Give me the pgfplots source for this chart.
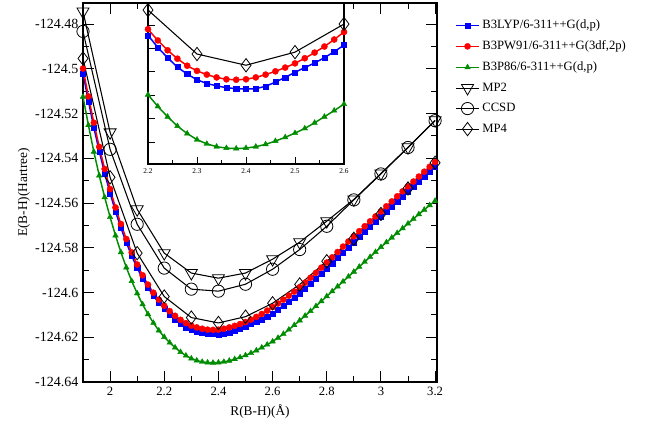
\documentclass[border=0pt]{standalone}
\usepackage{pgfplots}
\usepackage{pgfplotstable}
\pgfplotsset{compat=1.18}
\usepackage{fontspec}
\setmainfont{Liberation Serif}
\definecolor{cblue}{RGB}{0,0,255}
\definecolor{cred}{RGB}{255,0,0}
\definecolor{cgreen}{RGB}{0,140,0}

\pgfplotstableread{
x red blue green
1.90 -124.4999 -124.5021 -124.5125
1.92 -124.5124 -124.5145 -124.5252
1.94 -124.5241 -124.5262 -124.5371
1.96 -124.5349 -124.5369 -124.5477
1.98 -124.5448 -124.5467 -124.5574
2.00 -124.5538 -124.5556 -124.5663
2.02 -124.5620 -124.5638 -124.5745
2.04 -124.5694 -124.5711 -124.5820
2.06 -124.5761 -124.5777 -124.5888
2.08 -124.5821 -124.5837 -124.5949
2.10 -124.5875 -124.5890 -124.6004
2.12 -124.5923 -124.5938 -124.6053
2.14 -124.5965 -124.5979 -124.6097
2.16 -124.6001 -124.6015 -124.6136
2.18 -124.6032 -124.6045 -124.6170
2.20 -124.6059 -124.6072 -124.6199
2.22 -124.6083 -124.6098 -124.6224
2.24 -124.6104 -124.6120 -124.6246
2.26 -124.6122 -124.6140 -124.6266
2.28 -124.6137 -124.6155 -124.6282
2.30 -124.6148 -124.6167 -124.6295
2.32 -124.6156 -124.6175 -124.6304
2.34 -124.6162 -124.6180 -124.6310
2.36 -124.6166 -124.6184 -124.6313
2.38 -124.6167 -124.6186 -124.6314
2.40 -124.6166 -124.6187 -124.6313
2.42 -124.6162 -124.6186 -124.6310
2.44 -124.6156 -124.6181 -124.6305
2.46 -124.6149 -124.6172 -124.6298
2.48 -124.6141 -124.6162 -124.6290
2.50 -124.6132 -124.6151 -124.6281
2.52 -124.6121 -124.6141 -124.6271
2.54 -124.6109 -124.6131 -124.6259
2.56 -124.6096 -124.6120 -124.6246
2.58 -124.6081 -124.6107 -124.6233
2.60 -124.6065 -124.6093 -124.6219
2.62 -124.6049 -124.6076 -124.6203
2.64 -124.6032 -124.6058 -124.6185
2.66 -124.6014 -124.6040 -124.6166
2.68 -124.5996 -124.6022 -124.6146
2.70 -124.5977 -124.6003 -124.6125
2.72 -124.5956 -124.5982 -124.6104
2.74 -124.5934 -124.5960 -124.6083
2.76 -124.5912 -124.5938 -124.6061
2.78 -124.5889 -124.5915 -124.6039
2.80 -124.5866 -124.5892 -124.6017
2.82 -124.5843 -124.5869 -124.5995
2.84 -124.5819 -124.5845 -124.5973
2.86 -124.5795 -124.5821 -124.5951
2.88 -124.5772 -124.5798 -124.5929
2.90 -124.5749 -124.5775 -124.5907
2.92 -124.5726 -124.5752 -124.5885
2.94 -124.5704 -124.5729 -124.5863
2.96 -124.5682 -124.5707 -124.5841
2.98 -124.5660 -124.5685 -124.5819
3.00 -124.5638 -124.5663 -124.5797
3.02 -124.5615 -124.5639 -124.5776
3.04 -124.5593 -124.5617 -124.5755
3.06 -124.5570 -124.5593 -124.5734
3.08 -124.5548 -124.5571 -124.5713
3.10 -124.5526 -124.5548 -124.5692
3.12 -124.5504 -124.5526 -124.5671
3.14 -124.5482 -124.5503 -124.5650
3.16 -124.5460 -124.5481 -124.5630
3.18 -124.5438 -124.5458 -124.5610
3.20 -124.5417 -124.5437 -124.5590
}\dft

\pgfplotstableread{
x tri circ diam
1.9 -124.4744 -124.4833 -124.4954
2.0 -124.5284 -124.5360 -124.5485
2.1 -124.5628 -124.5695 -124.5824
2.2 -124.5824 -124.5891 -124.6018
2.3 -124.5913 -124.5985 -124.6112
2.4 -124.5936 -124.5994 -124.6136
2.5 -124.5913 -124.5963 -124.6108
2.6 -124.5851 -124.5896 -124.6048
2.7 -124.5775 -124.5808 -124.5964
2.8 -124.5681 -124.5704 -124.5860
2.9 -124.5584 -124.5586 -124.5760
3.0 -124.5468 -124.5470 -124.5649
3.1 -124.5351 -124.5352 -124.5535
3.2 -124.5230 -124.5232 -124.5420
}\wft

\pgfplotsset{
  bluestyle/.style={color=cblue, line width=1.1pt, mark=square*, mark size=1.9pt, mark options={solid, fill=cblue, line width=0.3pt}},
  redstyle/.style={color=cred, line width=1.1pt, mark=*, mark size=2.3pt, mark options={solid, fill=cred, line width=0.3pt}},
  greenstyle/.style={color=cgreen, line width=1.1pt, mark=triangle*, mark size=2.4pt, mark options={solid, fill=cgreen, line width=0.3pt}},
  tristyle/.style={color=black, line width=0.8pt, mark=triangle, mark size=5.2pt, mark options={solid, fill=white, rotate=180, line width=0.6pt}},
  circstyle/.style={color=black, line width=0.8pt, mark=o, mark size=4.6pt, mark options={solid, fill=none, line width=0.6pt}},
  diamstyle/.style={color=black, line width=0.8pt, mark=diamond, mark size=5pt, mark options={solid, fill=white, line width=0.6pt}},
}

\begin{document}
\begin{tikzpicture}[x=1pt,y=1pt]
\path[use as bounding box] (0,0) rectangle (488.25,319.5);
\begin{axis}[
  at={(62.25pt,33pt)}, anchor=south west,
  scale only axis, width=265.5pt, height=284.25pt,
  xmin=1.9, xmax=3.207, ymin=-124.64, ymax=-124.4706,
  xtick={2,2.2,2.4,2.6,2.8,3,3.2},
  xticklabels={2,2.2,2.4,2.6,2.8,3,3.2},
  ytick={-124.64,-124.62,-124.6,-124.58,-124.56,-124.54,-124.52,-124.5,-124.48},
  yticklabels={-124.64,-124.62,-124.6,-124.58,-124.56,-124.54,-124.52,-124.5,-124.48},
  minor x tick num=1, minor y tick num=1,
  tick align=inside, tick pos=both,
  major tick length=8pt, minor tick length=4.5pt,
  axis line style={line width=0.9pt}, tick style={line width=0.7pt, black},
  xticklabel style={font=\fontsize{9.5}{10}\selectfont},
  yticklabel style={font=\fontsize{10.5}{11}\selectfont},
  /pgf/number format/assume math mode=true,
  xlabel={R(B-H)(\AA)}, ylabel={E(B-H)(Hartree)},
  label style={font=\fontsize{10}{12}\selectfont},
  ylabel style={yshift=-3pt},
  legend style={at={(1.04,0.97)}, anchor=north west, draw=none, fill=none,
    font=\fontsize{9.5}{10}\selectfont, row sep=3.6pt},
  legend cell align=left,
  clip=true,
]
\addplot[bluestyle] table[x=x,y=blue] {\dft};
\addlegendentry{B3LYP/6-311++G(d,p)}
\addplot[redstyle] table[x=x,y=red] {\dft};
\addlegendentry{B3PW91/6-311++G(3df,2p)}
\addplot[greenstyle] table[x=x,y=green] {\dft};
\addlegendentry{B3P86/6-311++G(d,p)}
\addplot[tristyle] table[x=x,y=tri] {\wft};
\addlegendentry{MP2}
\addplot[circstyle] table[x=x,y=circ] {\wft};
\addlegendentry{CCSD}
\addplot[diamstyle] table[x=x,y=diam] {\wft};
\addlegendentry{MP4}
\end{axis}

\begin{axis}[
  at={(111pt,196.5pt)}, anchor=south west,
  scale only axis, width=147pt, height=120.75pt,
  xmin=2.2, xmax=2.6, ymin=-124.6347, ymax=-124.6003,
  axis background/.style={fill=white},
  xtick={2.2,2.3,2.4,2.5,2.6},
  xticklabels={2.2,2.3,2.4,2.5,2.6},
  minor x tick num=1,
  ytick={-124.63,-124.625,-124.62,-124.615,-124.61,-124.605},
  yticklabels={},
  xtick pos=bottom, ytick pos=left,
  tick align=inside,
  major tick length=5pt, minor tick length=3pt,
  axis line style={line width=0.8pt}, tick style={line width=0.6pt, black},
  tick label style={font=\fontsize{5.5}{6}\selectfont},
  /pgf/number format/assume math mode=true,
  clip=true,
]
\addplot[bluestyle] table[x=x,y=blue] {\dft};
\addplot[redstyle] table[x=x,y=red] {\dft};
\addplot[greenstyle] table[x=x,y=green] {\dft};
\addplot[tristyle] table[x=x,y=tri] {\wft};
\addplot[circstyle] table[x=x,y=circ] {\wft};
\addplot[diamstyle] table[x=x,y=diam] {\wft};
\end{axis}
\end{tikzpicture}
\end{document}
